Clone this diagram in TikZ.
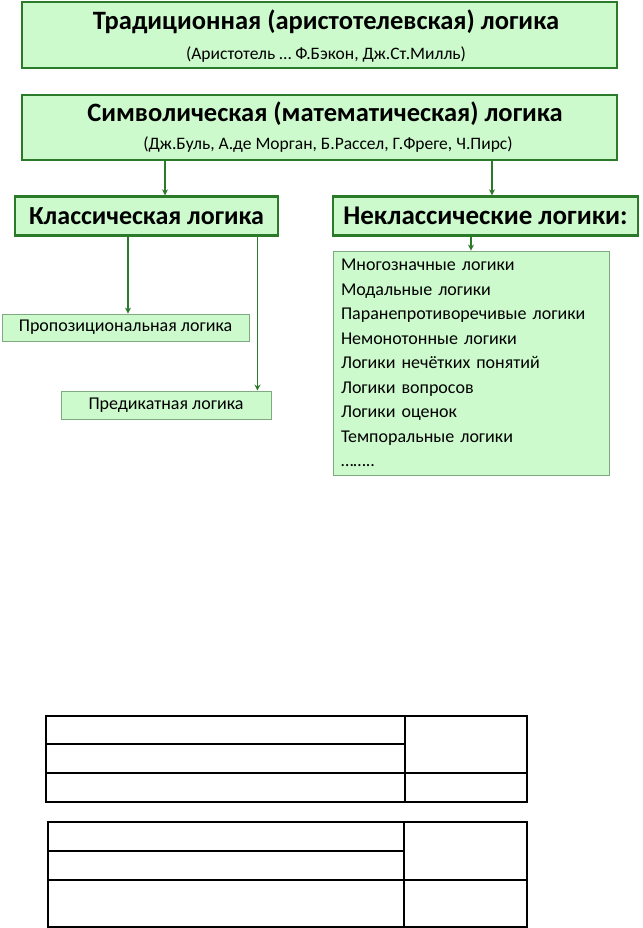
\documentclass[tikz,border=0pt]{standalone}
\usepackage{fontspec}
\setmainfont{Carlito}
\usetikzlibrary{arrows.meta,calc}
\definecolor{boxfill}{HTML}{CCFACC}
\definecolor{boxdraw}{HTML}{2A7A2A}
\definecolor{boxthin}{HTML}{7FAA7F}

\begin{document}
\begin{tikzpicture}[x=1pt, y=-1pt, >=Stealth,
    bigbox/.style={draw=boxdraw, fill=boxfill, line width=2.4pt, inner sep=0pt},
    smallbox/.style={draw=boxthin, fill=boxfill, line width=0.9pt, inner sep=0pt},
    arr/.style={->, draw=boxdraw, line width=1.4pt, -{Stealth[length=6pt,width=6pt]}},
    grid/.style={line width=1.3pt, draw=black}]
  \useasboundingbox (0,0) rectangle (642,928);
  \node[bigbox, minimum width=595pt, minimum height=66pt] (trad) at (319.5,35) {};
  \node[font={\fontsize{26.5}{28}\selectfont\bfseries}] at (326,22) {Традиционная (аристотелевская) логика};
  \node[font={\fontsize{17.5}{19}\selectfont}] at (326,55) {(Аристотель … Ф.Бэкон, Дж.Ст.Милль)};
  \node[bigbox, minimum width=595pt, minimum height=65pt] (symb) at (319.5,127.5) {};
  \node[font={\fontsize{26.5}{28}\selectfont\bfseries}] at (325,114) {Символическая (математическая) логика};
  \node[font={\fontsize{17.5}{19}\selectfont}] at (328,145) {(Дж.Буль, А.де Морган, Б.Рассел, Г.Фреге, Ч.Пирс)};
  \node[bigbox, minimum width=263pt, minimum height=39pt, font={\fontsize{26}{28}\selectfont\bfseries}] (klass) at (146.5,216) {Классическая логика};
  \node[bigbox, minimum width=305pt, minimum height=39pt, font={\fontsize{27}{29}\selectfont\bfseries}] (nekl) at (485.5,216) {Неклассические логики:};
  \node[smallbox, minimum width=247pt, minimum height=27pt, font={\fontsize{18}{20}\selectfont}] (prop) at (125.5,327.5) {Пропозициональная логика};
  \node[smallbox, minimum width=210pt, minimum height=28pt, font={\fontsize{18}{20}\selectfont}] (pred) at (166,405) {Предикатная логика};
  \node[smallbox, minimum width=276pt, minimum height=224pt, text width=260pt, align=left, inner xsep=8pt,
    font={\fontsize{18}{24.5}\selectfont}] (list) at (471,363)
    {Многозначные логики\\ Модальные логики\\ Паранепротиворечивые логики\\ Немонотонные логики\\ Логики нечётких понятий\\ Логики вопросов\\ Логики оценок\\ Темпоральные логики\\ ……..};
  \draw[arr] ([xshift=18.5pt]klass.north |- symb.south) -- ([xshift=18.5pt]klass.north);
  \draw[arr] ([xshift=6.5pt]nekl.north |- symb.south) -- ([xshift=6.5pt]nekl.north);
  \draw[arr] ([xshift=2.5pt]prop.north |- klass.south) -- ([xshift=2.5pt]prop.north);
  \draw[arr] ([xshift=-14pt]pred.north east |- klass.south) -- ([xshift=-14pt]pred.north east);
  \draw[arr] (list.north |- nekl.south) -- (list.north);
  % empty tables
  \draw[grid] (46,716) rectangle (527,802);
  \draw[grid] (405,716) -- (405,802);
  \draw[grid] (46,744) -- (405,744);
  \draw[grid] (46,773) -- (527,773);
  \draw[grid] (48,822) rectangle (527,927);
  \draw[grid] (404,822) -- (404,927);
  \draw[grid] (48,851) -- (404,851);
  \draw[grid] (48,880) -- (527,880);
\end{tikzpicture}
\end{document}
